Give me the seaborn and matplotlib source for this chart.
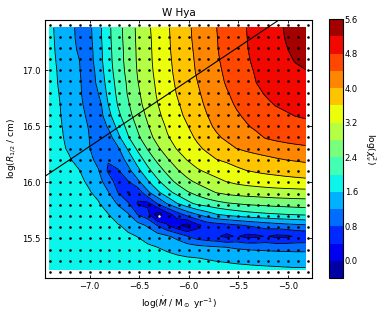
import numpy as np
import pandas as pd
import matplotlib
matplotlib.use('Agg')
import matplotlib.pyplot as plt
import seaborn as sns

# model grid: mass-loss rate (x) and half-abundance radius (y, top row first)
log_mdot = [-7.4, -7.3, -7.2, -7.1, -7.0, -6.9, -6.8, -6.7, -6.6, -6.5, -6.4, -6.3, -6.2, -6.1,
            -6.0, -5.9, -5.8, -5.7, -5.6, -5.5, -5.4, -5.3, -5.2, -5.1, -5.0, -4.9, -4.8]
log_r = [17.4, 17.3, 17.2, 17.1, 17.0, 16.9, 16.8, 16.7, 16.6, 16.5, 16.4, 16.3,
         16.2, 16.1, 16.0, 15.9, 15.8, 15.7, 15.6, 15.5, 15.4, 15.3, 15.2]

# log(chi^2_nu), one row per log_r value
log_chi2 = [
    [1.68, 1.51, 1.33, 1.11, 1.08, 1.46, 1.91, 2.26, 2.58, 2.88, 3.14, 3.35, 3.56, 3.75, 3.93, 4.10, 4.25, 4.40, 4.53, 4.67, 4.80, 4.91, 5.01, 5.12, 5.23, 5.33, 5.42],
    [1.69, 1.52, 1.35, 1.12, 1.06, 1.45, 1.90, 2.25, 2.57, 2.87, 3.12, 3.34, 3.55, 3.74, 3.92, 4.09, 4.24, 4.39, 4.52, 4.66, 4.79, 4.90, 5.00, 5.11, 5.21, 5.29, 5.37],
    [1.70, 1.53, 1.36, 1.16, 1.03, 1.42, 1.88, 2.23, 2.55, 2.86, 3.11, 3.33, 3.54, 3.73, 3.90, 4.07, 4.23, 4.38, 4.52, 4.65, 4.78, 4.89, 4.98, 5.08, 5.18, 5.27, 5.33],
    [1.71, 1.55, 1.38, 1.22, 1.00, 1.41, 1.86, 2.22, 2.54, 2.85, 3.10, 3.32, 3.52, 3.71, 3.88, 4.05, 4.20, 4.36, 4.49, 4.62, 4.76, 4.86, 4.95, 5.03, 5.12, 5.22, 5.28],
    [1.72, 1.57, 1.40, 1.25, 0.94, 1.35, 1.82, 2.19, 2.51, 2.83, 3.08, 3.30, 3.50, 3.69, 3.86, 4.03, 4.17, 4.33, 4.46, 4.59, 4.72, 4.83, 4.92, 5.00, 5.07, 5.13, 5.18],
    [1.73, 1.58, 1.42, 1.28, 0.96, 1.29, 1.76, 2.14, 2.46, 2.79, 3.04, 3.27, 3.46, 3.66, 3.82, 3.99, 4.14, 4.29, 4.43, 4.55, 4.68, 4.80, 4.88, 4.95, 5.01, 5.06, 5.10],
    [1.74, 1.60, 1.44, 1.29, 0.98, 1.20, 1.69, 2.10, 2.43, 2.74, 3.00, 3.24, 3.43, 3.62, 3.79, 3.95, 4.09, 4.23, 4.37, 4.49, 4.61, 4.72, 4.83, 4.90, 4.96, 5.00, 5.03],
    [1.75, 1.62, 1.46, 1.31, 1.06, 1.02, 1.60, 2.03, 2.35, 2.69, 2.94, 3.19, 3.37, 3.56, 3.73, 3.90, 4.05, 4.19, 4.32, 4.43, 4.54, 4.63, 4.73, 4.82, 4.88, 4.93, 4.95],
    [1.76, 1.63, 1.48, 1.33, 1.14, 0.97, 1.47, 1.91, 2.27, 2.58, 2.87, 3.13, 3.32, 3.50, 3.67, 3.83, 3.99, 4.12, 4.24, 4.36, 4.45, 4.53, 4.60, 4.68, 4.75, 4.81, 4.84],
    [1.77, 1.65, 1.50, 1.35, 1.19, 0.88, 1.25, 1.72, 2.12, 2.46, 2.77, 3.03, 3.25, 3.42, 3.58, 3.75, 3.92, 4.06, 4.17, 4.27, 4.37, 4.45, 4.52, 4.58, 4.63, 4.67, 4.70],
    [1.78, 1.67, 1.52, 1.37, 1.22, 0.92, 1.00, 1.50, 1.96, 2.33, 2.65, 2.93, 3.17, 3.33, 3.49, 3.65, 3.80, 3.95, 4.06, 4.15, 4.24, 4.33, 4.42, 4.46, 4.49, 4.51, 4.53],
    [1.79, 1.69, 1.56, 1.40, 1.24, 0.98, 0.86, 1.15, 1.65, 2.08, 2.43, 2.74, 3.00, 3.23, 3.38, 3.53, 3.66, 3.78, 3.89, 4.00, 4.08, 4.15, 4.21, 4.26, 4.30, 4.33, 4.35],
    [1.80, 1.72, 1.64, 1.48, 1.30, 1.10, 0.83, 0.95, 1.35, 1.80, 2.17, 2.49, 2.77, 3.00, 3.22, 3.35, 3.48, 3.60, 3.66, 3.72, 3.78, 3.84, 3.90, 3.96, 4.01, 4.04, 4.07],
    [1.82, 1.77, 1.70, 1.62, 1.43, 1.22, 0.74, 0.78, 1.08, 1.50, 1.90, 2.22, 2.51, 2.77, 2.97, 3.16, 3.26, 3.36, 3.45, 3.54, 3.60, 3.65, 3.69, 3.72, 3.75, 3.78, 3.81],
    [1.84, 1.80, 1.75, 1.68, 1.55, 1.34, 1.00, 0.62, 0.78, 1.13, 1.56, 1.93, 2.23, 2.50, 2.71, 2.87, 3.01, 3.11, 3.21, 3.28, 3.33, 3.37, 3.41, 3.44, 3.47, 3.49, 3.51],
    [1.86, 1.83, 1.79, 1.73, 1.64, 1.50, 1.22, 0.79, 0.37, 0.55, 1.12, 1.52, 1.87, 2.13, 2.36, 2.52, 2.68, 2.82, 2.90, 2.95, 2.98, 3.00, 3.02, 3.04, 3.05, 3.06, 3.07],
    [1.88, 1.86, 1.83, 1.78, 1.70, 1.63, 1.40, 1.16, 0.85, 0.36, 0.30, 0.84, 1.24, 1.60, 1.87, 2.10, 2.20, 2.29, 2.37, 2.42, 2.47, 2.50, 2.53, 2.56, 2.58, 2.60, 2.61],
    [1.90, 1.88, 1.86, 1.83, 1.77, 1.69, 1.61, 1.38, 1.24, 0.78, 0.55, -0.25, 0.25, 0.62, 0.96, 1.20, 1.40, 1.60, 1.70, 1.78, 1.85, 1.90, 1.94, 1.97, 2.00, 2.03, 2.06],
    [1.92, 1.90, 1.89, 1.87, 1.83, 1.77, 1.70, 1.63, 1.50, 1.35, 1.15, 0.78, 0.42, 0.08, -0.15, 0.30, 0.55, 0.62, 0.68, 0.75, 0.82, 0.90, 0.97, 1.03, 1.08, 1.12, 1.15],
    [1.93, 1.92, 1.91, 1.90, 1.88, 1.84, 1.79, 1.73, 1.66, 1.59, 1.47, 1.37, 1.25, 1.08, 0.82, 0.60, 0.50, 0.45, 0.31, 0.44, 0.30, 0.32, 0.43, 0.31, 0.33, 0.44, 0.47],
    [1.94, 1.94, 1.93, 1.92, 1.91, 1.89, 1.86, 1.82, 1.77, 1.72, 1.66, 1.60, 1.53, 1.46, 1.39, 1.33, 1.28, 1.24, 1.20, 1.15, 1.12, 1.10, 1.08, 1.06, 1.05, 1.04, 1.04],
    [1.95, 1.95, 1.94, 1.94, 1.93, 1.92, 1.90, 1.88, 1.85, 1.82, 1.78, 1.74, 1.70, 1.66, 1.63, 1.61, 1.58, 1.55, 1.53, 1.51, 1.49, 1.47, 1.46, 1.45, 1.44, 1.43, 1.43],
    [1.95, 1.95, 1.95, 1.95, 1.94, 1.94, 1.93, 1.92, 1.91, 1.89, 1.87, 1.85, 1.83, 1.81, 1.79, 1.77, 1.75, 1.73, 1.71, 1.69, 1.68, 1.67, 1.66, 1.65, 1.64, 1.63, 1.63],
]

best_fit = (-6.3, 15.7)
line_mdot = [-7.5, -5.0]
line_r = [16.025, 17.50]

levels = [-0.4, 0.0, 0.4, 0.8, 1.2, 1.6, 2.0, 2.4, 2.8, 3.2, 3.6, 4.0, 4.4, 4.8, 5.2, 5.6]
cbar_ticks = [0.0, 0.8, 1.6, 2.4, 3.2, 4.0, 4.8, 5.6]

sns.set_style('ticks')
plt.rcParams['font.family'] = ['DejaVu Sans']
plt.rcParams['mathtext.fontset'] = 'dejavusans'
plt.rcParams['text.color'] = 'k'
plt.rcParams['axes.labelcolor'] = 'k'
plt.rcParams['xtick.color'] = 'k'
plt.rcParams['ytick.color'] = 'k'
plt.rcParams['xtick.direction'] = 'in'
plt.rcParams['ytick.direction'] = 'in'
plt.rcParams['xtick.top'] = True
plt.rcParams['ytick.right'] = True

fig = plt.figure(figsize=(3.82, 3.13), dpi=100)
ax = fig.add_axes([0.118, 0.113, 0.700, 0.824])
cax = fig.add_axes([0.862, 0.111, 0.035, 0.828])

z = np.array(log_chi2)
# the filled map sits a little inside the outer ring of grid dots
x_fill = np.linspace(-7.41, -4.82, len(log_mdot))
y_fill = np.linspace(17.378, 15.225, len(log_r))
cf = ax.contourf(x_fill, y_fill, z, levels=levels, cmap='jet')
ax.contour(x_fill, y_fill, z, levels=levels, colors='k', linewidths=0.6)

grid = pd.DataFrame([(m, r) for r in log_r for m in log_mdot], columns=['mdot', 'r'])
sns.scatterplot(data=grid, x='mdot', y='r', ax=ax, color='k', s=3.5, linewidth=0,
                legend=False, zorder=3)
ax.plot(best_fit[0], best_fit[1], 'o', color='w', ms=1.8, mew=0, zorder=4)
ax.plot(line_mdot, line_r, color='k', lw=0.8, zorder=3)

ax.set_xlim(-7.45, -4.75)
ax.set_ylim(15.15, 17.45)
ax.set_xticks([-7.0, -6.5, -6.0, -5.5, -5.0])
ax.set_yticks([15.5, 16.0, 16.5, 17.0])
ax.tick_params(labelsize=6, length=2.5, width=0.6, pad=3)
for s in ax.spines.values():
    s.set_linewidth(0.8)
    s.set_color('k')
ax.set_xlabel(r'log($\dot{M}$ / M$_\odot$ yr$^{-1}$)', fontsize=6.5, labelpad=3)
ax.set_ylabel(r'log($R_{1/2}$ / cm)', fontsize=6.5, labelpad=3)
ax.set_title('W Hya', fontsize=7.5, pad=3)

cb = fig.colorbar(cf, cax=cax, ticks=cbar_ticks)
cb.ax.yaxis.set_major_formatter('{x:.1f}')
cb.ax.tick_params(labelsize=6, length=0, pad=1.5)
cb.outline.set_linewidth(0.8)
cb.outline.set_edgecolor('k')
cb.set_label(r'log($\chi^2_\nu$)', rotation=270, labelpad=14, fontsize=6.5)

fig.savefig('out.png', dpi=100)
